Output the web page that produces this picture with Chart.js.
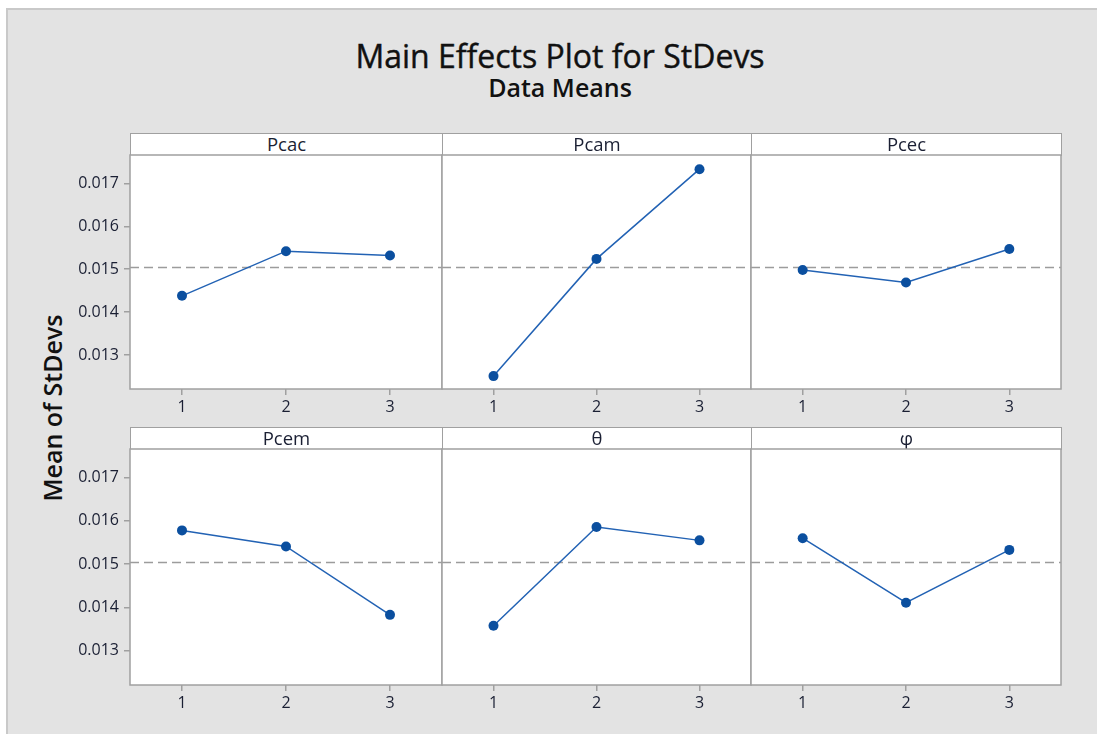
<!DOCTYPE html>
<html>
<head>
<meta charset="utf-8">
<script src="https://cdn.jsdelivr.net/npm/chart.js@4.4.1/dist/chart.umd.min.js"></script>
<style>
  body { margin: 0; background: #fff; }
  #page { position: relative; width: 1102px; height: 741px; overflow: hidden; font-family: "Open Sans", "Noto Sans", sans-serif; }
  #frame { position: absolute; left: 6px; top: 8px; width: 1089px; height: 724px; background: #e3e3e3; border: 2px solid #c9c9c9; border-right: none; border-bottom: none; }
  .txt { position: absolute; text-align: center; white-space: nowrap; color: #111; }
  .strip { position: absolute; box-sizing: border-box; background: #fff; border: 1.5px solid #a0a0a0; text-align: center; font-size: 18.5px; font-weight: 500; color: #1a1f33; }
  .panel { position: absolute; }
</style>
</head>
<body>
<div id="page">
  <div id="frame"></div>
  <div class="txt" style="left:260px; top:36px; width:600px; font-size:32px; font-weight:500; line-height:40px; -webkit-text-stroke:0.4px #111;">Main Effects Plot for StDevs</div>
  <div class="txt" style="left:360px; top:72px; width:400px; font-size:25px; font-weight:600; line-height:30px;">Data Means</div>
  <div class="txt" style="left:-48px; top:392px; width:200px; font-size:25px; font-weight:600; line-height:32px; transform: rotate(-90deg);">Mean of StDevs</div>
</div>
<script>
const factors = ["Pcac", "Pcam", "Pcec", "Pcem", "θ", "φ"];
const levels = [1, 2, 3];
const pcac = [0.01438, 0.01542, 0.01532];
const pcam = [0.01251, 0.01524, 0.01733];
const pcec = [0.01498, 0.01469, 0.01547];
const pcem = [0.01578, 0.01541, 0.01383];
const theta = [0.01358, 0.01586, 0.01555];
const phi = [0.01560, 0.01411, 0.01533];
const yTicks = [0.013, 0.014, 0.015, 0.016, 0.017];
const overallMean = 0.01504;
const yMin = 0.01221;
const yMax = 0.01766;

const series = [pcac, pcam, pcec, pcem, theta, phi];

// panel geometry
const cols = [{ x: 130, w: 312 }, { x: 442, w: 309 }, { x: 751, w: 310 }];
const rows = [
  { strip: 133, top: 155, bottom: 389 },
  { strip: 427, top: 449, bottom: 685 },
];

const borderCol = "#a0a0a0";
const tickFont = { family: "'Open Sans', sans-serif", size: 16 };
const tickCol = "#1a1f33";

const framePlugin = {
  id: "frame",
  beforeDraw(chart) {
    const a = chart.chartArea;
    const c = chart.ctx;
    c.save();
    c.fillStyle = "#fff";
    c.fillRect(a.left, a.top, a.right - a.left, a.bottom - a.top);
    c.restore();
  },
  afterDraw(chart) {
    const a = chart.chartArea;
    const c = chart.ctx;
    c.save();
    c.strokeStyle = borderCol;
    c.lineWidth = 1.5;
    c.strokeRect(a.left, a.top, a.right - a.left, a.bottom - a.top);
    c.restore();
  },
};

// keep every panel's plot box at the same place
const noPad = (s) => {
  s.paddingTop = 0;
  s.paddingBottom = 0;
  s.paddingLeft = 0;
  s.paddingRight = 0;
};

const page = document.getElementById("page");

factors.forEach((name, i) => {
  const col = cols[i % 3];
  const row = rows[Math.floor(i / 3)];
  const showY = i % 3 === 0;

  const strip = document.createElement("div");
  strip.className = "strip";
  strip.style.left = col.x + "px";
  strip.style.top = row.strip + "px";
  strip.style.width = col.w + 1 + "px";
  strip.style.height = row.top - row.strip + 1 + "px";
  strip.style.lineHeight = row.top - row.strip - 2 + "px";
  strip.textContent = name;
  page.appendChild(strip);

  const plotH = row.bottom - row.top;
  const canvas = document.createElement("canvas");
  canvas.className = "panel";
  canvas.width = col.w + 72;
  canvas.height = plotH + 42;
  canvas.style.left = col.x - 70 + "px";
  canvas.style.top = row.top - 2 + "px";
  page.appendChild(canvas);

  new Chart(canvas, {
    type: "line",
    data: {
      datasets: [
        {
          data: levels.map((l, k) => ({ x: l, y: series[i][k] })),
          borderColor: "#2262b4",
          borderWidth: 1.5,
          pointRadius: 5,
          pointBackgroundColor: "#0b4f9f",
          pointBorderWidth: 0,
        },
        {
          data: [
            { x: 0.5, y: overallMean },
            { x: 3.5, y: overallMean },
          ],
          borderColor: "#9c9c9c",
          borderWidth: 1.5,
          borderDash: [9, 5],
          pointRadius: 0,
        },
      ],
    },
    options: {
      responsive: false,
      animation: false,
      devicePixelRatio: 1,
      layout: { autoPadding: false, padding: { top: 2, right: 2, left: 0, bottom: 0 } },
      plugins: { legend: { display: false }, tooltip: { enabled: false } },
      scales: {
        x: {
          type: "linear",
          min: 0.5,
          max: 3.5,
          afterBuildTicks: (s) => { s.ticks = levels.map((v) => ({ value: v })); },
          afterFit: (s) => { s.height = 40; noPad(s); },
          grid: { drawOnChartArea: false, tickLength: 6, color: borderCol, lineWidth: 1.5 },
          border: { display: false },
          ticks: { font: tickFont, color: tickCol, padding: 3, callback: (v) => String(v) },
        },
        y: {
          display: showY,
          min: yMin,
          max: yMax,
          afterBuildTicks: (s) => { s.ticks = yTicks.map((v) => ({ value: v })); },
          afterFit: (s) => { s.width = 70; noPad(s); },
          grid: { drawOnChartArea: false, tickLength: 6, color: borderCol, lineWidth: 1.5 },
          border: { display: false },
          ticks: { font: tickFont, color: tickCol, padding: 5, callback: (v) => v.toFixed(3) },
        },
      },
    },
    plugins: [framePlugin],
  });
});
</script>
</body>
</html>
